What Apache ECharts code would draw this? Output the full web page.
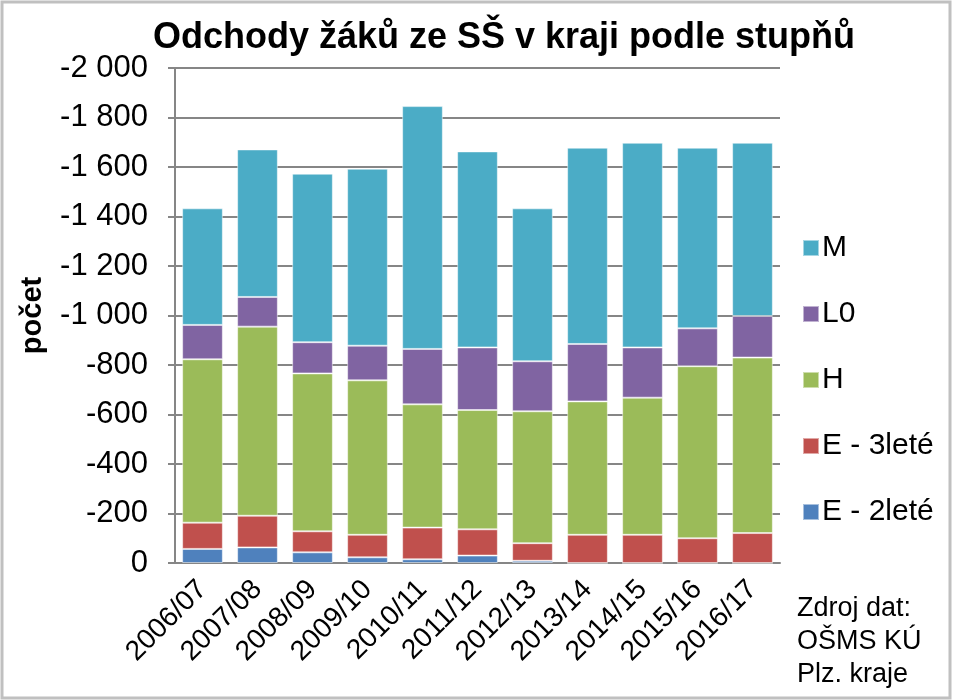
<!DOCTYPE html>
<html>
<head>
<meta charset="utf-8">
<script src="https://cdn.jsdelivr.net/npm/echarts@6/dist/echarts.min.js"></script>
<style>html,body{margin:0;padding:0;background:#fff}#c{width:953px;height:700px}</style>
</head>
<body>
<div id="c"></div>
<script>
const categories = ['2006/07','2007/08','2008/09','2009/10','2010/11','2011/12','2012/13','2013/14','2014/15','2015/16','2016/17'];
const e2lete = [-57,-63,-43,-23,-15,-30,-9,0,0,0,0];
const e3lete = [-106,-128,-85,-91,-128,-106,-71,-114,-114,-100,-121];
const hVals  = [-660,-764,-638,-624,-498,-482,-533,-539,-554,-695,-709];
const l0Vals = [-139,-120,-126,-140,-224,-253,-202,-232,-203,-153,-168];
const mVals  = [-471,-596,-681,-715,-981,-792,-618,-793,-827,-730,-700];
const yTicks = {min:-2000, max:0, interval:200};
const titleText = 'Odchody žáků ze SŠ v kraji podle stupňů';
const yName = 'počet';
const sourceLines = ['Zdroj dat:','OŠMS KÚ','Plz. kraje'];
const legendOrder = ['M','L0','H','E - 3leté','E - 2leté'];

const font = '"Liberation Sans", Arial, sans-serif';
const colors = {'E - 2leté':'#4F81BD','E - 3leté':'#C0504D','H':'#9BBB59','L0':'#8064A2','M':'#4BACC6'};
const seriesDefs = [['E - 2leté',e2lete],['E - 3leté',e3lete],['H',hVals],['L0',l0Vals],['M',mVals]];

const chart = echarts.init(document.getElementById('c'));
chart.setOption({
  animation:false,
  textStyle:{fontFamily:font},
  title:{text:titleText,left:499,textAlign:'center',top:15,
    textStyle:{fontFamily:font,fontWeight:'bold',fontSize:36,color:'#000'}},
  legend:{orient:'vertical',left:797,top:228,itemWidth:16,itemHeight:16,itemGap:36,
    data:legendOrder,icon:'rect',
    textStyle:{fontFamily:font,fontSize:30,color:'#000',padding:[0,0,0,-2]}},
  grid:{left:175,right:173,top:68,bottom:137,containLabel:false},
  xAxis:{type:'category',data:categories,
    axisLine:{lineStyle:{color:'#868686',width:2}},
    axisTick:{inside:true,length:7,lineStyle:{color:'#868686',width:2}},
    axisLabel:{rotate:45,fontSize:28,color:'#000',margin:22,fontFamily:font}},
  yAxis:{type:'value',inverse:true,min:yTicks.min,max:yTicks.max,interval:yTicks.interval,
    name:yName,nameLocation:'middle',nameRotate:90,nameGap:128,
    nameTextStyle:{fontSize:29,fontWeight:'bold',color:'#000',fontFamily:font},
    axisLine:{show:true,lineStyle:{color:'#868686',width:2}},
    axisTick:{show:true,length:7,lineStyle:{color:'#868686',width:2}},
    splitLine:{lineStyle:{color:'#868686',width:2}},
    axisLabel:{fontSize:31,color:'#000',margin:27,fontFamily:font,
      formatter:v=>String(v).replace(/\B(?=(\d{3})+(?!\d))/g,' ')}},
  graphic:[
    {type:'rect',shape:{x:2,y:2,width:948,height:696},style:{fill:'none',stroke:'#c0c0c0',lineWidth:3},silent:true},
    {type:'text',left:797,top:592,style:{text:sourceLines.join('\n'),font:'27px '+font,lineHeight:33,fill:'#000'}}
  ],
  series:seriesDefs.map(([n,d])=>({name:n,type:'bar',stack:'a',data:d,barCategoryGap:'26%',
    itemStyle:{color:colors[n],borderColor:'rgba(255,255,255,0.5)',borderWidth:1}}))
});
</script>
</body>
</html>
